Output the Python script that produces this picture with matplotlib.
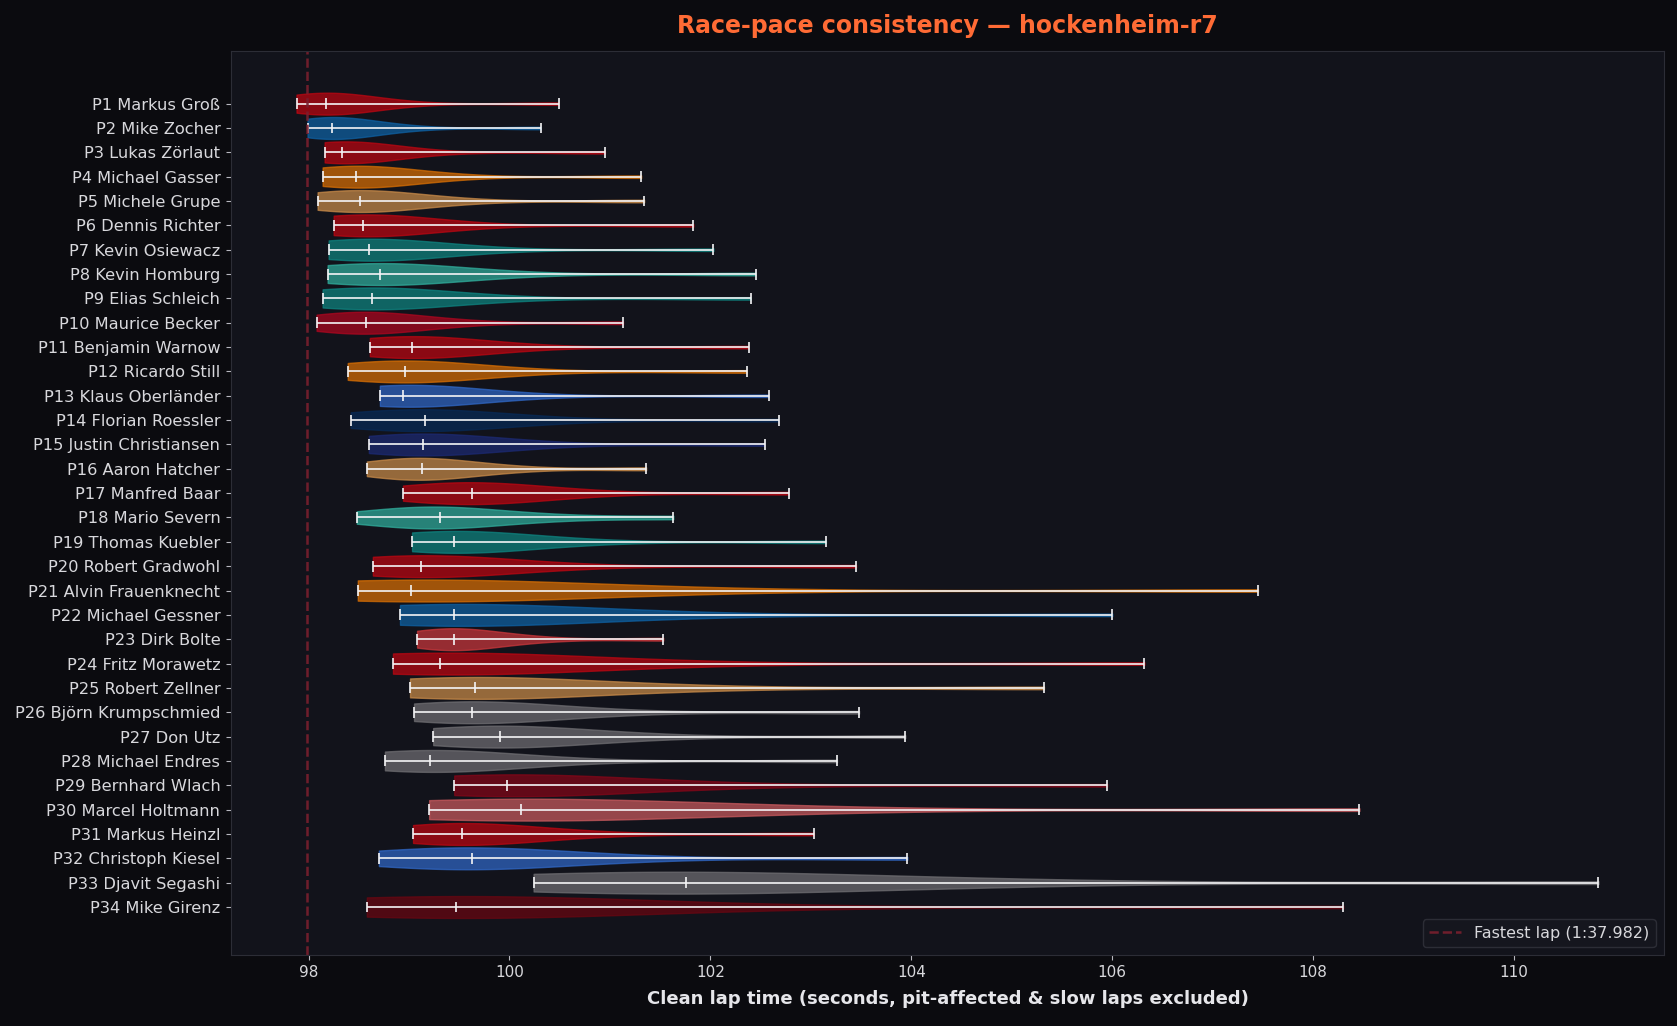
import matplotlib
matplotlib.use("Agg")
import matplotlib.pyplot as plt

# Data ------------------------------------------------------------------------
drivers = [
    "P1 Markus Groß", "P2 Mike Zocher", "P3 Lukas Zörlaut", "P4 Michael Gasser",
    "P5 Michele Grupe", "P6 Dennis Richter", "P7 Kevin Osiewacz",
    "P8 Kevin Homburg", "P9 Elias Schleich", "P10 Maurice Becker",
    "P11 Benjamin Warnow", "P12 Ricardo Still", "P13 Klaus Oberländer",
    "P14 Florian Roessler", "P15 Justin Christiansen", "P16 Aaron Hatcher",
    "P17 Manfred Baar", "P18 Mario Severn", "P19 Thomas Kuebler",
    "P20 Robert Gradwohl", "P21 Alvin Frauenknecht", "P22 Michael Gessner",
    "P23 Dirk Bolte", "P24 Fritz Morawetz", "P25 Robert Zellner",
    "P26 Björn Krumpschmied", "P27 Don Utz", "P28 Michael Endres",
    "P29 Bernhard Wlach", "P30 Marcel Holtmann", "P31 Markus Heinzl",
    "P32 Christoph Kiesel", "P33 Djavit Segashi", "P34 Mike Girenz",
]

# clean lap times (s) per driver, in finishing order
laps = [
    [97.88, 98.02, 98.08, 98.12, 98.15, 98.17, 98.22, 98.30, 98.45, 98.80, 100.49],
    [97.99, 98.08, 98.14, 98.18, 98.21, 98.23, 98.29, 98.38, 98.55, 98.90, 100.31],
    [98.16, 98.22, 98.26, 98.29, 98.31, 98.33, 98.38, 98.47, 98.62, 99.00, 100.95],
    [98.14, 98.27, 98.35, 98.40, 98.44, 98.47, 98.55, 98.66, 98.85, 99.30, 101.31],
    [98.09, 98.24, 98.34, 98.42, 98.47, 98.51, 98.60, 98.72, 98.92, 99.40, 101.34],
    [98.25, 98.36, 98.43, 98.48, 98.51, 98.54, 98.63, 98.76, 98.98, 99.45, 101.83],
    [98.20, 98.34, 98.44, 98.51, 98.56, 98.60, 98.70, 98.84, 99.10, 99.60, 102.03],
    [98.19, 98.36, 98.50, 98.60, 98.66, 98.71, 98.82, 98.98, 99.25, 99.80, 102.45],
    [98.14, 98.30, 98.43, 98.52, 98.58, 98.63, 98.73, 98.88, 99.15, 99.70, 102.40],
    [98.08, 98.25, 98.37, 98.46, 98.52, 98.57, 98.66, 98.80, 99.00, 99.45, 101.13],
    [98.61, 98.75, 98.86, 98.94, 98.99, 99.03, 99.12, 99.26, 99.50, 100.00, 102.38],
    [98.39, 98.58, 98.74, 98.85, 98.91, 98.96, 99.06, 99.22, 99.48, 100.00, 102.36],
    [98.71, 98.79, 98.85, 98.89, 98.92, 98.94, 99.02, 99.15, 99.40, 99.90, 102.58],
    [98.42, 98.65, 98.85, 98.99, 99.09, 99.16, 99.28, 99.45, 99.75, 100.30, 102.68],
    [98.60, 98.78, 98.93, 99.03, 99.10, 99.14, 99.24, 99.40, 99.68, 100.20, 102.54],
    [98.58, 98.76, 98.91, 99.02, 99.09, 99.13, 99.22, 99.36, 99.58, 100.00, 101.36],
    [98.94, 99.17, 99.36, 99.50, 99.58, 99.63, 99.74, 99.90, 100.18, 100.70, 102.78],
    [98.48, 98.75, 98.98, 99.15, 99.25, 99.31, 99.45, 99.65, 99.95, 100.50, 101.63],
    [99.03, 99.17, 99.28, 99.36, 99.42, 99.45, 99.55, 99.70, 99.98, 100.60, 103.15],
    [98.64, 98.80, 98.93, 99.03, 99.09, 99.12, 99.22, 99.38, 99.68, 100.30, 103.45],
    [98.49, 98.66, 98.80, 98.91, 98.98, 99.02, 99.20, 99.60, 100.30, 101.50, 107.45],
    [98.91, 99.08, 99.22, 99.33, 99.40, 99.45, 99.60, 99.90, 100.50, 101.60, 106.00],
    [99.08, 99.20, 99.30, 99.37, 99.42, 99.45, 99.53, 99.65, 99.85, 100.25, 101.53],
    [98.84, 98.99, 99.12, 99.21, 99.27, 99.31, 99.45, 99.75, 100.30, 101.50, 106.32],
    [99.01, 99.20, 99.38, 99.52, 99.61, 99.66, 99.82, 100.15, 100.70, 101.80, 105.32],
    [99.05, 99.24, 99.40, 99.52, 99.59, 99.63, 99.75, 99.95, 100.30, 100.95, 103.48],
    [99.24, 99.45, 99.63, 99.77, 99.86, 99.91, 100.04, 100.25, 100.60, 101.25, 103.94],
    [98.76, 98.91, 99.03, 99.12, 99.18, 99.21, 99.32, 99.50, 99.82, 100.45, 103.26],
    [99.45, 99.62, 99.76, 99.87, 99.94, 99.98, 100.13, 100.42, 100.95, 102.00, 105.95],
    [99.20, 99.45, 99.70, 99.90, 100.03, 100.11, 100.40, 100.90, 101.70, 103.00, 108.46],
    [99.04, 99.20, 99.33, 99.43, 99.49, 99.53, 99.63, 99.80, 100.10, 100.70, 103.03],
    [98.70, 99.00, 99.25, 99.43, 99.55, 99.63, 99.78, 100.00, 100.40, 101.10, 103.96],
    [100.24, 100.60, 100.95, 101.25, 101.55, 101.76, 102.10, 102.70, 103.60, 105.00, 110.84],
    [98.58, 98.85, 99.08, 99.25, 99.38, 99.47, 99.68, 100.05, 100.70, 102.00, 108.30],
]

team_colors = [
    "#c00611", "#0e63a7", "#c00611", "#dd7103", "#ce8e4a", "#c00611",
    "#0e8783", "#31b2a0", "#0e8783", "#b2061f", "#c00611", "#dd7103",
    "#316acb", "#072a58", "#1c2a75", "#ce8e4a", "#c00611", "#31b2a0",
    "#0e8783", "#c00611", "#dd7103", "#0e63a7", "#cf383c", "#c00611",
    "#ce8e4a", "#727175", "#727175", "#727175", "#870618", "#cf5c60",
    "#c00611", "#316acb", "#727175", "#6b0611",
]

fastest_lap = 97.982
fastest_label = "Fastest lap (1:37.982)"

# Style -----------------------------------------------------------------------
FIG_BG = "#0b0b0f"
AX_BG = "#12131b"
TXT = "#d8d8dc"

fig = plt.figure(figsize=(16.77, 10.26), dpi=100, facecolor=FIG_BG)
ax = fig.add_axes([0.138, 0.069, 0.854, 0.881], facecolor=AX_BG)

positions = list(range(len(drivers)))
parts = ax.violinplot(laps, positions=positions, vert=False, widths=0.9,
                      showmedians=True, showextrema=True, points=300)

for body, col in zip(parts["bodies"], team_colors):
    body.set_facecolor(col)
    body.set_edgecolor(col)
    body.set_alpha(0.7)
    body.set_linewidth(1.0)

for key in ("cbars", "cmins", "cmaxes", "cmedians"):
    parts[key].set_color("#f4f4f6")
    parts[key].set_linewidth(1.2)

ax.axvline(fastest_lap, color="#7a1f2e", linestyle="--", linewidth=1.8,
           alpha=0.9, label=fastest_label)

ax.set_yticks(positions)
ax.set_yticklabels(drivers)
ax.set_ylim(len(drivers) - 1 + 1.98, -2.15)
ax.margins(x=0.05)

ax.tick_params(colors="#b8b8c0", labelsize=11)
ax.tick_params(axis="y", labelsize=11.7, pad=4.5)
for lbl in ax.get_yticklabels() + ax.get_xticklabels():
    lbl.set_color(TXT)
for sp in ax.spines.values():
    sp.set_color("#2c2d36")

ax.set_xlabel("Clean lap time (seconds, pit-affected & slow laps excluded)",
              color="#e6e6ea", fontsize=13, fontweight="bold", labelpad=7)
ax.set_title("Race-pace consistency — hockenheim-r7", color="#ff6b35",
             fontsize=17, fontweight="bold", pad=13)

leg = ax.legend(loc="lower right", facecolor="#16171f", edgecolor="#33343d",
                fontsize=11.5)
for t in leg.get_texts():
    t.set_color(TXT)

fig.savefig("out.png", dpi=100, facecolor=FIG_BG)
